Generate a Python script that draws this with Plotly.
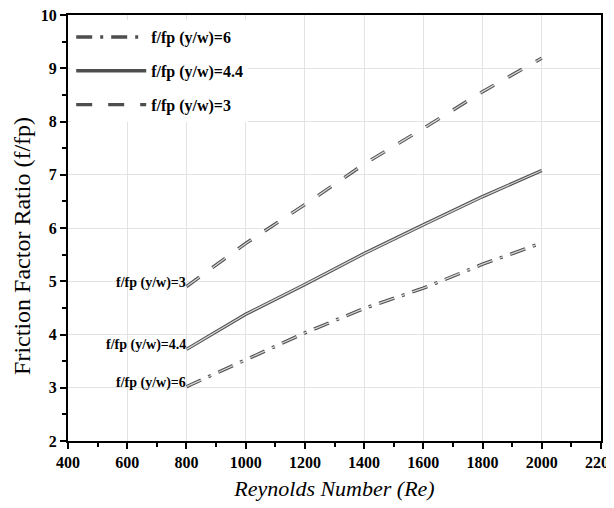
import plotly.graph_objects as go

re_vals = [800, 1000, 1200, 1400, 1600, 1800, 2000]
ratio_yw6 = [3.02, 3.53, 4.03, 4.49, 4.87, 5.32, 5.72]
ratio_yw44 = [3.72, 4.38, 4.94, 5.52, 6.06, 6.59, 7.08]
ratio_yw3 = [4.90, 5.71, 6.44, 7.20, 7.87, 8.56, 9.19]

series_names = ["f/fp (y/w)=6", "f/fp (y/w)=4.4", "f/fp (y/w)=3"]
series_values = [ratio_yw6, ratio_yw44, ratio_yw3]
series_dash = ["16px,8px,3px,8px", "solid", "16px,16px"]

x_ticks = [400, 600, 800, 1000, 1200, 1400, 1600, 1800, 2000, 2200]
y_ticks = [2, 3, 4, 5, 6, 7, 8, 9, 10]

x_title = "Reynolds Number (Re)"
y_title = "Friction Factor Ratio (f/fp)"

serif = "Liberation Serif, Times New Roman, serif"

fig = go.Figure()
for i, (name, vals, dash) in enumerate(zip(series_names, series_values, series_dash)):
    fig.add_trace(go.Scatter(
        x=re_vals, y=vals, mode="lines", name=name,
        legendgroup=f"g{i}", showlegend=True,
        line=dict(color="#4e4e4e", width=3.4, dash=dash),
    ))
    fig.add_trace(go.Scatter(
        x=re_vals, y=vals, mode="lines", name=name,
        legendgroup=f"g{i}", showlegend=False, hoverinfo="skip",
        line=dict(color="#d4d4d4", width=1.3, dash=dash),
    ))
    fig.add_annotation(
        x=re_vals[0], y=vals[0], text=name, showarrow=False,
        xanchor="right", yanchor="middle", xshift=2, yshift=4,
        font=dict(family=serif, size=14, color="black", weight="bold"),
    )

axis_common = dict(
    showline=True, linecolor="black", linewidth=2, mirror=True,
    ticks="outside", ticklen=6, tickwidth=1.5, tickcolor="black",
    showgrid=True, gridcolor="#e3e3e3", gridwidth=1, zeroline=False,
    automargin=False, ticklabeloverflow="allow",
    tickfont=dict(family=serif, size=16, color="black", weight="bold"),
)

fig.update_xaxes(
    range=[400, 2200], tickvals=x_ticks,
    minor=dict(ticks="outside", ticklen=4, tickcolor="black", dtick=100, showgrid=False),
    title=dict(text=x_title, standoff=10,
               font=dict(family=serif, size=22, color="black", style="italic")),
    **axis_common,
)
fig.update_yaxes(
    range=[2, 10], tickvals=y_ticks,
    minor=dict(ticks="outside", ticklen=4, tickcolor="black", dtick=0.5, showgrid=False),
    **axis_common,
)

# y-axis title as a rotated annotation (sits a little below the axis centre)
fig.add_annotation(
    xref="paper", yref="paper", x=0, y=0.458, xshift=-46,
    xanchor="center", yanchor="middle", textangle=-90,
    text=y_title, showarrow=False,
    font=dict(family=serif, size=24, color="black"),
)

# the page body has an 8px default margin, so the figure is sized to fit the window
fig.update_layout(
    width=606, height=500,
    margin=dict(l=60, r=13, t=7, b=67),
    plot_bgcolor="white", paper_bgcolor="white",
    showlegend=True,
    legend=dict(
        x=0.006, y=0.988, xanchor="left", yanchor="top",
        bgcolor="white", borderwidth=0, itemwidth=70,
        traceorder="grouped", tracegroupgap=10,
        font=dict(family=serif, size=16, color="black", weight="bold"),
    ),
)

fig.write_html("out.html")
